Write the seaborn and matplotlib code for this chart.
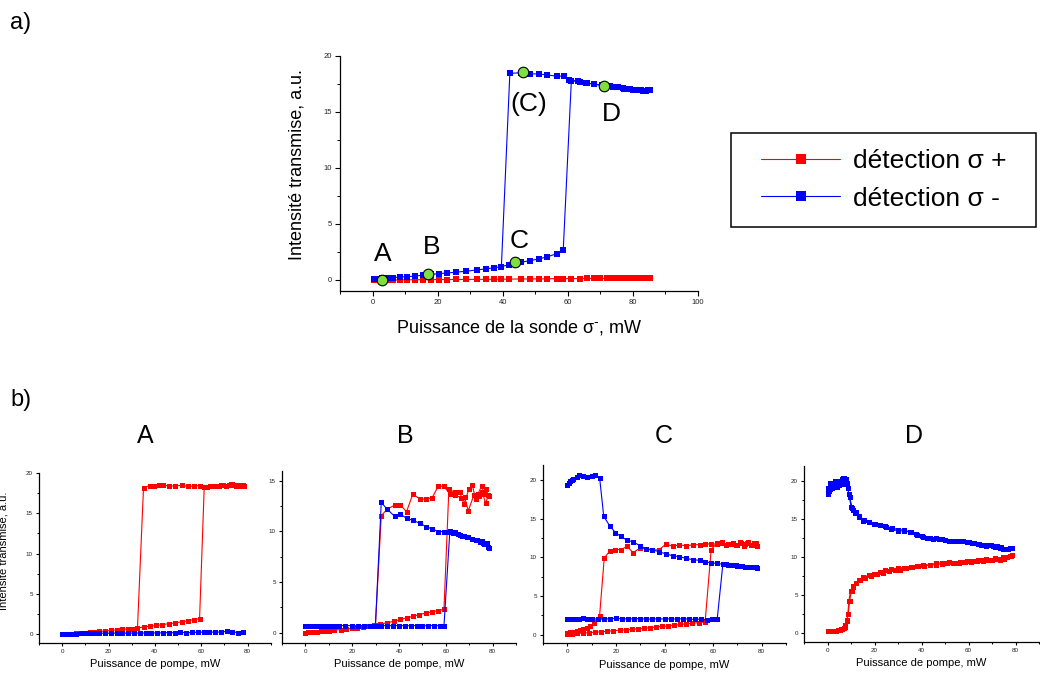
import numpy as np
import matplotlib
matplotlib.use("Agg")
import matplotlib.pyplot as plt
from matplotlib.ticker import MultipleLocator
from matplotlib.patches import Rectangle
import seaborn as sns

# ---------------- data: panel a) (probe sweep) ----------------
sonde_minus_up_x = [0.5, 1.7, 2.8, 4.3, 6.4, 8.4, 10.5, 13.1, 15.6, 18.0, 20.3, 22.8, 25.6, 28.7, 32.1,
                    35.0, 37.2, 39.6, 42.0, 45.5, 48.4, 51.1, 53.7, 56.6, 58.6, 61.1, 63.7, 66.0, 68.1,
                    71.0, 73.8, 75.3, 77.4, 79.9, 81.5, 83.0, 84.6, 85.4]
sonde_minus_up_y = [0.05, 0.08, 0.12, 0.16, 0.2, 0.24, 0.28, 0.33, 0.42, 0.48, 0.55, 0.6, 0.68, 0.76, 0.88,
                    0.98, 1.06, 1.18, 1.35, 1.55, 1.72, 1.86, 2.06, 2.32, 2.62, 17.8, 17.7, 17.55, 17.5,
                    17.3, 17.25, 17.2, 17.05, 17.0, 17.0, 16.9, 16.95, 17.0]
sonde_minus_down_x = [85.0, 84.0, 82.5, 81.0, 79.0, 77.0, 75.0, 73.0, 70.5, 68.0, 65.5, 63.0, 60.5, 58.8,
                      56.6, 53.7, 51.1, 48.4, 45.5, 42.2, 39.6]
sonde_minus_down_y = [17.0, 16.9, 17.0, 17.0, 17.05, 17.1, 17.2, 17.3, 17.4, 17.5, 17.6, 17.75, 17.85, 18.2,
                      18.2, 18.3, 18.4, 18.4, 18.5, 18.45, 1.18]
sonde_plus_x = [0.5, 1.7, 2.8, 4.3, 6.4, 8.4, 10.5, 13.1, 15.6, 18.0, 20.3, 22.8, 25.6, 28.7, 32.1, 35.0,
                37.2, 39.6, 42.0, 45.5, 48.4, 51.1, 53.7, 56.6, 58.6, 61.1, 63.7, 66.0, 68.1, 70.0, 72.0,
                74.0, 75.5, 77.0, 78.5, 80.0, 81.5, 83.0, 84.6, 85.4]
sonde_plus_y = [-0.05, -0.04, -0.03, -0.02, -0.02, -0.01, 0.0, 0.0, 0.01, 0.01, 0.02, 0.02, 0.03, 0.03,
                0.04, 0.04, 0.05, 0.05, 0.06, 0.07, 0.08, 0.08, 0.09, 0.1, 0.1, 0.11, 0.11, 0.12, 0.12,
                0.12, 0.13, 0.13, 0.13, 0.14, 0.14, 0.14, 0.15, 0.15, 0.15, 0.15]
points_x = [3.0, 17.2, 43.7, 46.2, 71.2]
points_y = [0.0, 0.5, 1.55, 18.6, 17.3]
point_labels = ["A", "B", "C", "(C)", "D"]
label_x = [3.2, 18.2, 45.2, 48.1, 73.5]
label_y = [2.3, 2.9, 3.5, 15.7, 14.8]

# ---------------- data: panel b) (pump sweeps) ----------------
# A
A_plus_up_x = [0, 1, 2, 3, 4.5, 6, 8, 10, 12, 14, 16, 18.5, 21, 23.5, 26, 28.5, 30.5, 32.5, 35.1, 37.7,
               40.5, 43.2, 46, 48.8, 51.5, 54.2, 56.8, 59.3, 61.3, 63.6, 65.3, 67.5, 69.6, 71.8, 72.9,
               74.0, 75.4, 76.8, 78.3]
A_plus_up_y = [0.0, 0.02, 0.04, 0.06, 0.09, 0.12, 0.16, 0.2, 0.25, 0.3, 0.36, 0.42, 0.48, 0.55, 0.62,
               0.68, 0.72, 0.76, 0.92, 1.0, 1.1, 1.2, 1.32, 1.42, 1.55, 1.68, 1.82, 1.94, 18.2, 18.3,
               18.4, 18.4, 18.45, 18.5, 18.6, 18.5, 18.4, 18.35, 18.4]
A_plus_down_x = [78.0, 76.5, 75.0, 73.5, 72.0, 70.5, 68.5, 66.5, 64.5, 62.5, 59.3, 56.7, 54.2, 51.7,
                 48.8, 46.3, 43.7, 41.6, 39.7, 37.7, 35.1, 32.5]
A_plus_down_y = [18.45, 18.5, 18.35, 18.6, 18.5, 18.4, 18.45, 18.3, 18.35, 18.25, 18.4, 18.35, 18.3,
                 18.45, 18.35, 18.35, 18.45, 18.45, 18.4, 18.4, 18.14, 0.76]
A_minus_x = [0, 1, 2, 3, 4.5, 6, 8, 10, 12, 14, 16, 18.5, 21, 23.5, 26, 28.5, 31, 33.5, 36, 38.5, 41,
             43.5, 46, 48.5, 51, 53.5, 56, 58.5, 61, 63.5, 66, 68.5, 71, 73.5, 76, 78]
A_minus_y = [0.05, 0.06, 0.08, 0.08, 0.1, 0.1, 0.12, 0.12, 0.13, 0.14, 0.14, 0.15, 0.15, 0.16, 0.16,
             0.15, 0.17, 0.16, 0.17, 0.18, 0.17, 0.2, 0.22, 0.2, 0.25, 0.2, 0.24, 0.26, 0.28, 0.3, 0.26,
             0.3, 0.36, 0.3, 0.22, 0.25]
# B
B_plus_up_x = [0, 1, 2, 3, 4, 5, 6.5, 8, 10, 12, 15, 17.5, 20, 22, 24.5, 27, 29.5, 32, 35, 37.8, 40.6,
               43.4, 46, 48.7, 51.6, 54.2, 56.8, 59.2, 61.3, 63.7, 66.0, 67.7, 69.9, 71.3, 72.7, 73.7,
               75.3, 76.3, 77.0, 78.4]
B_plus_up_y = [0.0, 0.02, 0.04, 0.06, 0.08, 0.1, 0.13, 0.16, 0.2, 0.24, 0.3, 0.36, 0.42, 0.48, 0.56,
               0.64, 0.74, 0.84, 0.98, 1.12, 1.3, 1.46, 1.62, 1.78, 1.94, 2.06, 2.18, 2.3, 14.2, 13.85,
               13.85, 12.7, 14.2, 14.6, 13.2, 13.7, 14.5, 13.7, 14.2, 13.5]
B_plus_down_x = [78.2, 77.0, 75.5, 74.0, 72.0, 69.6, 68.0, 66.3, 63.7, 61.7, 59.2, 56.8, 54.2, 51.6,
                 48.9, 45.9, 43.2, 40.6, 38.1, 34.9, 32.4, 29.9]
B_plus_down_y = [13.6, 12.8, 13.9, 13.5, 13.6, 12.05, 13.4, 13.35, 13.6, 13.7, 14.45, 14.5, 13.35, 13.2,
                 13.2, 13.7, 11.95, 12.6, 12.6, 12.2, 11.55, 0.72]
B_minus_up_x = [0, 1, 2, 3, 4, 5, 6.5, 8, 10, 12, 14.5, 17, 20, 22.5, 25, 27.5, 30, 32.5, 35, 37.5, 40,
                42.5, 45, 47.5, 50, 52.5, 55, 57.5, 59.2, 61.7, 63.7, 66.0, 67.7, 69.6, 71.3, 73.4, 74.6,
                75.6, 76.3, 77.4, 78.4]
B_minus_up_y = [0.7, 0.7, 0.68, 0.7, 0.68, 0.7, 0.68, 0.68, 0.7, 0.68, 0.68, 0.7, 0.68, 0.68, 0.7, 0.68,
                0.68, 0.7, 0.68, 0.68, 0.7, 0.68, 0.68, 0.7, 0.68, 0.68, 0.7, 0.68, 0.68, 10.0, 9.9, 9.6,
                9.5, 9.4, 9.3, 9.2, 9.0, 9.1, 8.76, 8.9, 8.37]
B_minus_down_x = [78.0, 77.0, 76.0, 74.8, 73.0, 71.0, 69.0, 67.0, 65.0, 63.0, 61.0, 59.2, 56.8, 54.2,
                  51.6, 48.9, 45.9, 43.2, 40.6, 38.1, 34.9, 32.4, 29.9]
B_minus_down_y = [8.5, 8.8, 8.9, 9.05, 9.2, 9.3, 9.45, 9.5, 9.7, 9.85, 9.95, 9.98, 9.98, 10.24, 10.47,
                  10.8, 11.1, 11.3, 11.7, 11.5, 12.2, 12.87, 0.68]
# C
C_plus_up_x = [0, 2, 4, 6.5, 9, 11.5, 14, 16.5, 19, 21.5, 24, 26.5, 29, 31.5, 34, 36.5, 39, 41.5, 44,
               46.5, 49, 51.5, 54, 56.7, 59.2, 61.7, 63.7, 65.5, 67.6, 69.6, 71.2, 72.8, 74.0, 75.5,
               76.8, 78.0]
C_plus_up_y = [0.1, 0.12, 0.15, 0.2, 0.24, 0.3, 0.36, 0.42, 0.5, 0.55, 0.6, 0.66, 0.75, 0.8, 0.88, 0.95,
               1.05, 1.1, 1.2, 1.3, 1.38, 1.45, 1.55, 1.62, 11.0, 11.9, 12.0, 11.6, 11.7, 11.6, 12.0,
               11.5, 11.9, 11.6, 11.8, 11.5]
C_plus_down_x = [77.5, 76, 74.5, 73, 71.5, 70, 68, 66, 63.7, 61.7, 59.2, 56.7, 54.4, 51.6, 48.9, 46.0,
                 43.3, 40.6, 37.8, 35.0, 32.2, 29.9, 27.1, 24.6, 22.1, 19.8, 17.4, 15.2, 13.3, 10.8, 9.4,
                 8.0, 6.6, 5.3, 3.9, 2.5, 1.1, 0]
C_plus_down_y = [11.8, 11.6, 12.0, 11.7, 11.9, 11.6, 11.8, 11.7, 11.8, 11.7, 11.75, 11.7, 11.65, 11.6,
                 11.5, 11.6, 11.45, 11.7, 11.0, 10.9, 11.1, 11.2, 10.6, 11.4, 11.0, 11.0, 10.8, 9.9,
                 2.46, 1.43, 1.08, 0.86, 0.73, 0.56, 0.43, 0.39, 0.3, 0.2]
C_minus_up_x = [0, 1, 2, 3, 4, 5, 6.5, 8, 10, 12.5, 15, 17.5, 20, 22.5, 25, 27.5, 30, 32.5, 35, 37.5,
                40, 42.5, 45, 47.5, 50, 52.5, 55, 57.5, 59.5, 61.7, 64.0, 65.5, 67.5, 69.6, 71.5, 73.0,
                74.5, 75.8, 77.0, 78.0]
C_minus_up_y = [1.95, 2.0, 2.0, 2.05, 2.0, 2.05, 2.1, 2.05, 2.05, 2.0, 2.0, 2.05, 2.1, 2.05, 2.0, 2.05,
                2.05, 2.0, 2.0, 2.05, 2.0, 2.05, 2.0, 2.05, 2.0, 1.95, 2.0, 1.9, 2.0, 2.05, 9.07, 9.1,
                9.0, 8.95, 8.85, 8.8, 8.7, 8.7, 8.75, 8.65]
C_minus_down_x = [77.5, 76, 74, 72, 70, 68, 66, 64, 61.7, 59.2, 56.7, 54.4, 51.6, 48.9, 46.0, 43.3,
                  40.6, 37.8, 35.0, 32.2, 29.9, 27.1, 24.6, 22.1, 19.8, 17.4, 15.0, 13.3, 11.5, 10, 8, 6.5,
                  5, 3.9, 2.5, 1.8, 1.1, 0.5, 0]
C_minus_down_y = [8.7, 8.75, 8.8, 8.85, 8.9, 9.0, 9.05, 9.1, 9.2, 9.3, 9.4, 9.6, 9.7, 9.85, 10.1, 10.2,
                  10.45, 10.7, 11.0, 11.1, 11.5, 12.0, 12.2, 12.7, 13.2, 14.1, 15.3, 20.3, 20.7, 20.5,
                  20.4, 20.5, 20.6, 20.4, 20.1, 20.0, 19.9, 19.6, 19.4]
# D
D_minus_up_x = [0, 0.3, 1.0, 1.7, 2.4, 3.1, 3.8, 4.5, 5.2, 6.0, 6.6, 7.2, 7.7, 8.3, 9.1, 10.0, 10.8,
                12.0, 13.3, 15.3, 17.5, 19.9, 22.3, 24.6, 26.9, 29.8, 32.6, 35.4, 37.9, 40.7, 43.4, 46.2,
                48.7, 51.5, 54.0, 56.4, 59.2, 61.6, 63.9, 65.5, 67.6, 69.5, 71.2, 73.3, 74.7, 76.1, 77.5,
                78.5]
D_minus_up_y = [18.55, 19.0, 19.65, 19.4, 19.65, 19.9, 19.9, 20.0, 20.0, 20.2, 20.3, 20.4, 20.2, 19.7,
                18.3, 16.6, 16.1, 15.9, 15.2, 14.7, 14.5, 14.3, 14.2, 14.0, 13.7, 13.4, 13.4, 13.3, 12.9,
                12.6, 12.5, 12.4, 12.3, 12.1, 12.1, 12.1, 11.9, 11.75, 11.7, 11.5, 11.4, 11.5, 11.3,
                11.2, 10.95, 10.96, 11.1, 11.1]
D_minus_down_x = [78.0, 76.8, 75.5, 74.0, 72.2, 70.5, 68.5, 66.5, 64.5, 62.5, 60.0, 57.5, 55.0, 52.5,
                  50.0, 47.5, 45.0, 42.5, 40.0, 37.5, 35.0, 32.5, 30.0, 27.5, 25.0, 22.5, 20.0, 17.5,
                  15.5, 13.5, 11.5, 10.5, 9.4, 8.6, 7.8, 7.0, 6.0, 5.0, 4.0, 3.0, 2.0, 1.2, 0.5, 0]
D_minus_down_y = [11.2, 11.0, 11.05, 11.3, 11.4, 11.45, 11.6, 11.6, 11.7, 11.8, 11.9, 12.0, 12.05, 12.1,
                  12.2, 12.3, 12.35, 12.5, 12.75, 13.0, 13.2, 13.5, 13.55, 13.8, 13.95, 14.15, 14.35,
                  14.6, 14.85, 15.3, 15.8, 16.4, 17.8, 19.0, 19.7, 19.6, 19.5, 19.4, 19.2, 19.3, 19.1,
                  18.9, 18.7, 18.3]
D_plus_up_x = [0, 0.5, 1.2, 2.0, 2.8, 3.6, 4.5, 5.4, 6.2, 6.9, 7.5, 8.1, 8.8, 9.4, 10.2, 10.8, 12.0,
               13.3, 15.3, 17.5, 19.9, 22.3, 24.6, 26.9, 29.8, 32.6, 35.4, 37.9, 40.7, 43.4, 46.2, 48.7,
               51.5, 54.0, 56.4, 59.2, 61.6, 63.9, 65.5, 67.6, 69.5, 71.2, 73.3, 74.7, 76.1, 77.5, 78.5]
D_plus_up_y = [0.15, 0.15, 0.17, 0.18, 0.2, 0.25, 0.3, 0.38, 0.45, 0.55, 1.0, 1.6, 2.5, 4.2, 5.5, 6.0,
               6.5, 6.9, 7.3, 7.55, 7.75, 7.95, 8.2, 8.35, 8.5, 8.55, 8.7, 8.8, 8.85, 8.95, 9.1, 9.2,
               9.25, 9.2, 9.35, 9.4, 9.4, 9.55, 9.5, 9.65, 9.55, 9.8, 9.65, 9.9, 10.0, 10.1, 10.2]
D_plus_down_x = [78.0, 76.5, 75.0, 73.5, 72.0, 70.0, 68.0, 66.0, 63.5, 61.0, 58.5, 56.0, 53.5, 51.0,
                 48.5, 46.0, 43.5, 41.0, 38.5, 36.0, 33.5, 31.0, 28.5, 26.0, 23.5, 21.0, 18.5, 16.0,
                 14.0, 12.2, 10.8, 9.8, 9.1, 8.4, 7.6, 6.8, 5.8, 4.6, 3.4, 2.2, 1.0, 0]
D_plus_down_y = [10.1, 9.95, 9.75, 9.6, 9.7, 9.5, 9.6, 9.45, 9.4, 9.35, 9.3, 9.2, 9.15, 9.1, 9.05, 8.95,
                 8.9, 8.8, 8.75, 8.6, 8.45, 8.3, 8.2, 8.05, 7.9, 7.7, 7.5, 7.25, 6.95, 6.5, 6.2, 5.5,
                 4.2, 1.5, 0.8, 0.6, 0.45, 0.35, 0.25, 0.2, 0.18, 0.15]

panel_titles = ["A", "B", "C", "D"]
legend_labels = ["détection σ +", "détection σ -"]

# ---------------- style ----------------
sns.set_theme(style="ticks")
plt.rcParams["font.family"] = ["Liberation Sans", "DejaVu Sans"]
plt.rcParams["text.color"] = "black"
plt.rcParams["axes.labelcolor"] = "black"

RED = "#ff0000"
BLUE = "#0000ff"

fig = plt.figure(figsize=(10.4, 6.77), dpi=100)


def style_axes(ax, xlim, ylim, xmaj, xmin, ymaj, ymin, tick_fs, majlen, minlen):
    ax.set_xlim(*xlim)
    ax.set_ylim(*ylim)
    ax.xaxis.set_major_locator(MultipleLocator(xmaj))
    ax.xaxis.set_minor_locator(MultipleLocator(xmin))
    ax.yaxis.set_major_locator(MultipleLocator(ymaj))
    ax.yaxis.set_minor_locator(MultipleLocator(ymin))
    sns.despine(ax=ax)
    for s in ["left", "bottom"]:
        ax.spines[s].set_color("black")
        ax.spines[s].set_linewidth(0.9)
    ax.tick_params(which="major", direction="out", length=majlen, width=0.8, color="black",
                   labelsize=tick_fs, labelcolor="#222222", pad=2)
    ax.tick_params(which="minor", direction="out", length=minlen, width=0.7, color="black")
    ax.set_xlabel("")
    ax.set_ylabel("")
    ax.grid(False)


def draw(ax, x, y, color, ms, lw=0.8):
    sns.lineplot(x=np.asarray(x, float), y=np.asarray(y, float), sort=False, estimator=None,
                 color=color, marker="s", markersize=ms, markeredgewidth=0, linewidth=lw, ax=ax)


# ---------------- panel a) ----------------
ax = fig.add_axes([0.3269, 0.5702, 0.3442, 0.3471])
draw(ax, sonde_plus_x, sonde_plus_y, RED, 4.5)
red_handle = ax.lines[-1]
draw(ax, sonde_minus_up_x, sonde_minus_up_y, BLUE, 4.5)
blue_handle = ax.lines[-1]
draw(ax, sonde_minus_down_x, sonde_minus_down_y, BLUE, 4.5)
sns.scatterplot(x=points_x, y=points_y, s=58, color="#7ee03c", edgecolor="black", linewidth=0.8,
                zorder=5, ax=ax)
for lx, ly, t in zip(label_x, label_y, point_labels):
    ax.text(lx, ly, t, fontsize=19, ha="center", va="center", color="black")
style_axes(ax, (-10, 100), (-1, 20), 20, 10, 5, 2.5, 5.5, 3.5, 2)
ax.set_xlabel(r"Puissance de la sonde σ$^{\text{-}}$, mW", fontsize=13, color="black")
ax.xaxis.set_label_coords(0.5, -0.115)
ax.set_ylabel("Intensité transmise, a.u.", fontsize=13, color="black")
ax.yaxis.set_label_coords(-0.095, 0.54)

# legend with an Origin-style box
fig.patches.append(Rectangle((731 / 1040, 1 - 227 / 677), 305 / 1040, 94 / 677,
                             transform=fig.transFigure, fill=False, edgecolor="black",
                             linewidth=1.1, zorder=0))
leg = fig.legend([red_handle, blue_handle], legend_labels, loc="center",
                 bbox_to_anchor=(884 / 1040, 1 - 180 / 677), fontsize=19, frameon=False,
                 handlelength=3.0, handletextpad=0.5, markerscale=1.6,
                 labelspacing=0.5, borderpad=0.2, borderaxespad=0)
for t in leg.get_texts():
    t.set_color("black")

fig.text(0.0096, 0.966, "a)", fontsize=17, ha="left", va="center", color="black")
fig.text(0.0096, 1 - 400 / 677, "b)", fontsize=17, ha="left", va="center", color="black")

# ---------------- panel b) ----------------
positions = [[0.0375, 0.0502, 0.2228, 0.2516],
             [0.2712, 0.0502, 0.2250, 0.2545],
             [0.5221, 0.0502, 0.2337, 0.2635],
             [0.7731, 0.0521, 0.2260, 0.2603]]
ylims = [(-1.07, 20), (-1.03, 16), (-1.1, 22), (-1.2, 22)]
title_x = [145, 405, 664, 914]

series = [
    [(A_plus_up_x, A_plus_up_y, RED), (A_plus_down_x, A_plus_down_y, RED), (A_minus_x, A_minus_y, BLUE)],
    [(B_plus_up_x, B_plus_up_y, RED), (B_plus_down_x, B_plus_down_y, RED),
     (B_minus_up_x, B_minus_up_y, BLUE), (B_minus_down_x, B_minus_down_y, BLUE)],
    [(C_plus_up_x, C_plus_up_y, RED), (C_plus_down_x, C_plus_down_y, RED),
     (C_minus_up_x, C_minus_up_y, BLUE), (C_minus_down_x, C_minus_down_y, BLUE)],
    [(D_minus_up_x, D_minus_up_y, BLUE), (D_minus_down_x, D_minus_down_y, BLUE),
     (D_plus_up_x, D_plus_up_y, RED), (D_plus_down_x, D_plus_down_y, RED)],
]

for i in range(4):
    ax = fig.add_axes(positions[i])
    for x, y, c in series[i]:
        draw(ax, x, y, c, 3.6, lw=0.8)
    style_axes(ax, (-10, 90), ylims[i], 20, 10, 5, 2.5, 4.5, 2.5, 1.5)
    ax.set_xlabel("Puissance de pompe, mW", fontsize=8, color="black")
    ax.xaxis.set_label_coords(0.5, -0.095)
    fig.text(title_x[i] / 1040, 1 - 436 / 677, panel_titles[i], fontsize=18, ha="center",
             va="center", color="black")

fig.text(9 / 1040, 1 - 551 / 677, "Intensité transmise, a.u.", fontsize=8, rotation=90,
         ha="right", va="center", color="black")

fig.savefig("out.png", dpi=100)
